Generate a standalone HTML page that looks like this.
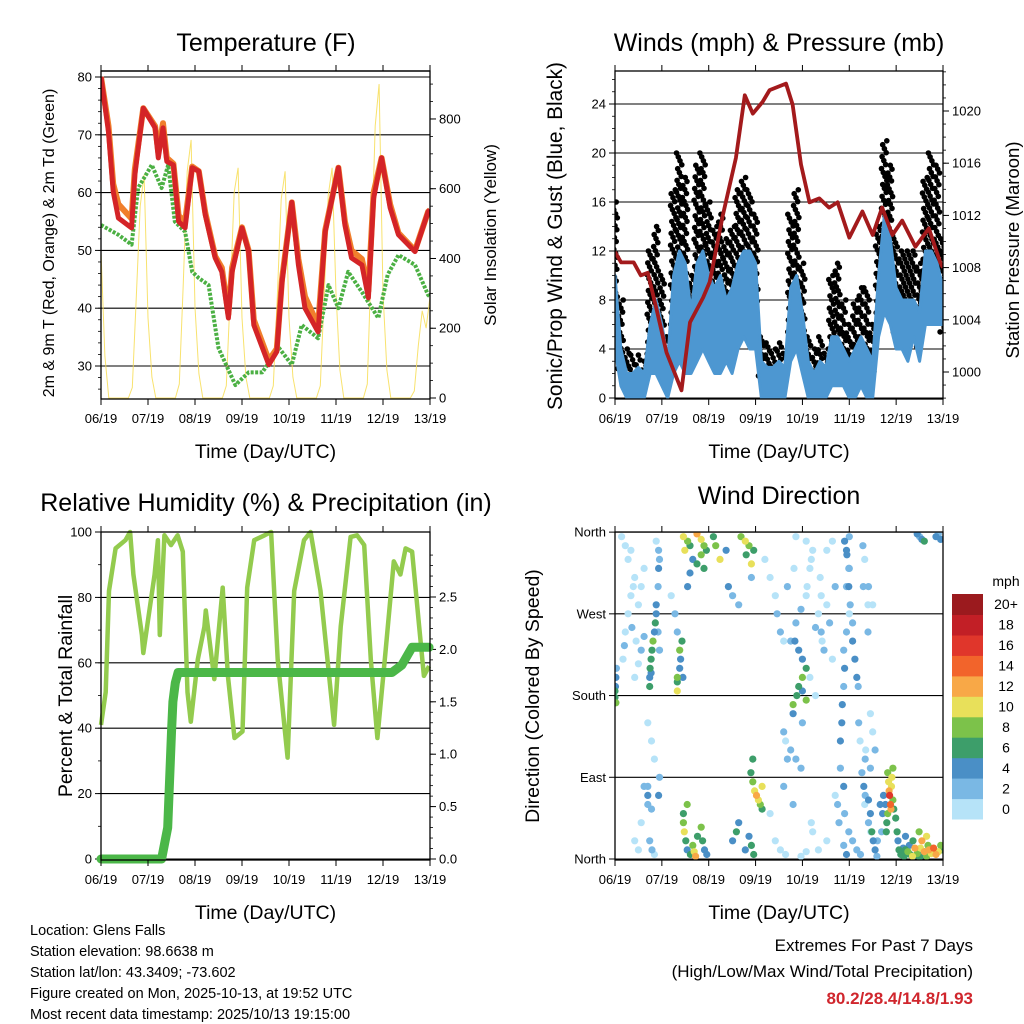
<!DOCTYPE html>
<html><head><meta charset="utf-8"><style>
html,body{margin:0;padding:0;background:#fff;}
svg{display:block;font-family:"Liberation Sans",Arial,sans-serif;}
</style></head><body>
<svg id="fig" width="1024" height="1024" viewBox="0 0 1024 1024" xmlns="http://www.w3.org/2000/svg">
<rect width="1024" height="1024" fill="#fff"/>
<g id="g1"></g>
<g id="g2"></g>
<g id="g3"></g>
<g id="g4"></g>
<g id="cbar"></g>
<g font-size="14.5" fill="#000">
<text x="30" y="935">Location: Glens Falls</text>
<text x="30" y="956">Station elevation: 98.6638 m</text>
<text x="30" y="977">Station lat/lon: 43.3409; -73.602</text>
<text x="30" y="998">Figure created on Mon, 2025-10-13, at 19:52 UTC</text>
<text x="30" y="1019">Most recent data timestamp: 2025/10/13 19:15:00</text>
</g>
<g text-anchor="end">
<text x="973" y="951" font-size="17">Extremes For Past 7 Days</text>
<text x="973" y="977" font-size="17">(High/Low/Max Wind/Total Precipitation)</text>
<text x="973" y="1004" font-size="17" font-weight="bold" fill="#d0262d">80.2/28.4/14.8/1.93</text>
</g>
</svg>
<script>
// ---------- DATA ----------
const xTickLabels = ["06/19","07/19","08/19","09/19","10/19","11/19","12/19","13/19"];
const tempDays = [0,0.16,0.26,0.37,0.65,0.72,0.9,1.15,1.22,1.32,1.4,1.54,1.65,1.79,1.94,2.08,2.22,2.43,2.57,2.71,2.79,3.0,3.14,3.25,3.57,3.74,3.85,4.06,4.2,4.34,4.62,4.77,5.05,5.19,5.33,5.55,5.69,5.8,5.97,6.15,6.33,6.68,6.96,7.0];
const tempRed = [80,70.5,60.2,55.6,53.9,63,74.6,71.2,66,71.2,65.4,64.8,55,53.9,64.3,63.7,56.1,48.7,46.3,38.3,46.3,53.9,49.8,37.1,30.2,32.5,44.5,58.3,47.5,40,35.9,53.2,64.3,54.4,48.7,47.5,41.8,59,66,57.4,52.7,49.8,56.7,57];
const tempOrange = [80,71.5,61.5,58,55.5,64,74.6,71.5,67,72,66,65,56,55,64.5,63.7,56.5,49,47,39,47,54,50,38,31,33,45,58.3,48.5,42,37,53.5,64.3,55,50,48.5,43,60,66,58,53,50,56.7,57];
const dewDays = [0,0.37,0.65,0.79,1.08,1.29,1.43,1.57,1.79,1.94,2.08,2.29,2.5,2.86,3.14,3.43,3.79,4.06,4.27,4.62,4.84,5.05,5.26,5.55,5.9,6.1,6.33,6.68,6.96,7.0];
const dewVals = [54.4,52.7,51,60.8,64.8,60.8,64.8,55,53.2,46.3,45.2,44,33.1,26.7,28.9,28.9,33.1,30.2,37.1,34.8,44,40,46.3,42.8,38.3,45.8,49.2,47.5,42.3,42];
const solarVals = [420,120,0,0,0,0,0,0,30,290,550,640,
 230,60,0,0,0,0,0,0,40,330,650,740,
 260,70,0,0,0,0,0,0,35,300,590,660,
 230,60,0,0,0,0,0,0,35,290,570,650,
 230,60,0,0,0,0,0,0,35,300,580,660,
 300,80,0,0,0,0,0,0,40,400,780,900,
 300,80,0,0,0,0,0,0,20,150,250,200,290];
const windLo = [4,1,0,0,0,0,2,2,1,0,2,3,2,2,3,4,3,2,2,3,2,4,5,4,4,0,0,0,0,0,3,4,2,0,0,0,0,1,1,1,0,0,1,0,0,5,7,6,4,4,3,5,3,6,6,6,6];
const windHi = [10,4,2,2,2.5,2,6,8,6,3,10,12,11,7,11,12,10,9,10,8,9,11,12,12,11,3,2.5,2.5,3,2.5,9,10,7,3,2,3,2.5,5,5,4,3,4,5,4,3,10,15,13,9,8,8,8,7,12,12,11,9];
const gustHi = [16,8,4,3.5,3.5,3,12,14,10,5,17,20,18,10,19,20,16,14,15,13,14,17,18,17,15,5,4.5,4,4.5,4,15,17,11,5,4,5,4,10,11,8,6,8,9,9,6,14,21,19,13,12,12,12,11,18,20,19,13];
const presDays = [0,0.13,0.4,0.55,0.7,0.9,1.1,1.42,1.6,1.88,2.02,2.3,2.58,2.77,2.94,3.15,3.3,3.65,3.79,3.97,4.15,4.36,4.57,4.75,5.0,5.28,5.5,5.7,5.92,6.13,6.41,6.7,6.94,7.0];
const presVals = [1009.2,1008.4,1008.4,1007.4,1007.6,1004.6,1001.5,998.6,1003.8,1005.7,1006.9,1012,1016.4,1021.2,1019.8,1020.7,1021.6,1022.1,1020.5,1015.9,1013,1013.3,1012.6,1013,1010.3,1012.3,1010.5,1012.6,1010.5,1011.6,1009.6,1011,1008.4,1008];
const rhDays = [0,0.1,0.17,0.31,0.52,0.62,0.69,0.87,0.9,1.0,1.14,1.21,1.25,1.35,1.49,1.63,1.74,1.84,1.91,2.06,2.2,2.23,2.41,2.59,2.7,2.84,3.01,3.11,3.26,3.48,3.62,3.76,3.97,4.11,4.32,4.46,4.67,4.96,5.1,5.31,5.45,5.6,5.74,5.88,6.05,6.23,6.37,6.48,6.62,6.77,6.87,6.98];
const rhVals = [41,51,82,95,97.5,100,87,68.5,63,73,87,97.5,68.5,99,96,99,94,51,42,61,71,76,55,83,56,37,39,83,97.5,99,100,61,31,82,97.5,100,82,41,71,98.5,99,96,61,37,63,91,87,95,94,71,56,59];
const rainDays = [0,1.29,1.42,1.5,1.53,1.58,1.64,6.19,6.4,6.62,6.98];
const rainVals = [0,0,0.3,1.21,1.5,1.68,1.78,1.78,1.85,2.02,2.02];
const dirDay = [0,0,0.01,0.02,0.03,0.02,
0.17,0.2,0.22,0.28,0.34,0.39,0.42,0.36,0.45,0.5,0.56,0.62,0.28,0.34,0.14,0.22,0.56,0.5,0.62,0.42,0.7,0.78,0.84,0.62,0.7,0.78,0.56,0.42,0.5,0.84,
0.74,0.74,0.75,0.77,0.79,0.77,0.81,0.84,0.86,0.88,0.88,0.92,0.93,0.95,0.93,0.88,0.92,0.95,0.7,0.7,0.74,0.79,0.93,0.95,
1.33,1.33,1.38,1.4,1.38,1.43,1.33,1.28,1.2,1.33,1.45,
1.46,1.55,1.6,1.49,1.66,1.75,1.84,1.9,1.95,1.75,1.84,1.6,1.55,1.9,
1.46,1.48,1.51,1.54,1.61,1.66,1.69,1.72,1.76,1.84,1.87,1.91,1.96,1.54,1.46,
2.1,2.15,2.24,2.37,2.42,2.51,2.69,2.78,2.86,2.8,2.91,2.96,2.91,2.64,2.51,2.59,2.64,2.78,2.86,2.91,2.96,
2.9,2.94,2.98,3.02,3.06,3.1,3.14,2.94,3.14,
3.2,3.31,3.42,3.46,3.53,3.6,3.42,3.53,3.64,3.31,3.64,3.75,3.86,3.97,3.75,3.86,3.97,4.08,3.68,3.82,4.19,4.08,3.86,3.97,4.08,4.19,
3.8,3.88,3.92,4.0,4.08,4.0,3.92,3.84,4.0,4.08,3.8,3.6,4.0,3.68,3.6,3.8,
4.1,4.16,4.22,4.28,4.34,4.4,4.42,4.46,4.4,4.38,4.52,4.58,4.64,4.64,4.52,4.7,4.16,4.28,4.22,4.34,4.52,4.7,
4.81,4.84,4.85,4.88,4.9,4.88,4.94,5.0,4.94,5.0,4.94,5.0,4.81,4.88,4.75,4.78,4.88,4.94,
4.9,4.95,4.99,4.99,5.02,5.07,5.07,5.12,5.16,5.19,4.9,4.99,5.07,5.16,5.24,5.29,5.33,5.41,5.5,5.33,5.41,5.46,
5.27,5.31,5.34,5.41,5.45,5.48,5.51,5.55,5.59,5.34,5.2,5.23,
5.82,5.84,5.85,5.86,5.88,5.89,5.9,5.91,5.82,5.8,5.79,5.77,5.73,5.71,5.93,5.95,5.99,6.02,6.04,6.06,6.1,6.15,6.17,6.21,5.93,5.66,5.69,5.6,
6.2,6.28,6.36,6.44,6.52,6.55,6.6,6.65,6.68,6.49,6.2,6.36,
6.45,6.5,6.55,6.6,5.3,5.4,5.35,5.45,5.5,5.55,5.4,5.45,
6.2,6.25,6.3,6.35,6.4,6.45,6.5,6.55,6.6,6.65,6.7,6.75,6.8,6.85,6.9,6.95,6.98,6.85,6.9,6.95];
const dirDeg = [185,178,190,200,210,172,220,235,250,270,290,300,310,255,240,280,300,320,330,340,355,345,230,215,245,200,150,130,110,80,60,55,40,20,10,5,
190,200,210,220,230,205,240,250,260,270,280,300,320,330,340,350,250,230,70,80,20,10,70,90,
195,200,210,220,230,240,250,270,290,185,200,
355,350,345,340,330,358,352,345,340,325,335,315,300,320,
40,30,20,10,5,15,8,3,25,35,20,10,5,60,50,
355,345,330,340,300,290,355,350,345,335,325,340,310,280,20,30,40,10,25,15,5,
95,85,75,70,65,60,55,110,80,
330,310,290,270,250,240,20,10,5,50,130,120,110,100,240,260,275,290,300,320,330,350,355,3,8,40,
170,180,190,200,210,220,230,240,185,175,160,140,150,110,80,60,
300,320,340,255,270,250,240,230,290,310,280,260,220,350,340,300,200,180,30,10,20,70,
130,150,170,190,210,230,250,270,300,320,340,355,100,80,60,40,15,5,
350,335,320,300,280,260,240,220,200,190,50,30,20,10,5,345,330,300,280,60,40,30,
95,80,70,65,50,30,20,10,3,110,150,130,
95,85,75,70,60,55,80,90,50,40,30,60,70,50,65,55,45,30,20,10,5,12,3,8,100,60,30,20,
10,15,20,5,12,20,8,25,15,30,25,3,
358,355,352,350,300,280,120,100,140,120,250,160,
10,8,5,3,12,6,2,4,8,3,10,6,12,5,8,15,10,355,358,352];
const dirSpd = [6,7,5,4,3,8,1,2,1,0,1,0,1,2,1,0,1,0,0,1,0,0,2,1,2,0,0,0,1,2,2,3,0,0,0,0,
6,5,6,7,6,4,8,5,6,5,4,3,4,3,2,1,2,2,4,3,3,2,4,3,
6,8,4,5,9,7,3,2,1,10,4,
10,8,6,10,5,12,10,8,6,7,9,4,4,6,
8,10,6,4,6,8,10,12,6,8,6,4,5,8,6,
6,8,10,4,4,2,8,10,8,6,10,7,3,3,4,6,5,4,5,7,6,
6,8,10,12,10,8,6,6,10,
0,1,1,2,2,1,1,0,0,1,1,2,3,2,2,3,2,1,2,1,1,0,1,0,1,0,
8,7,6,8,6,4,5,4,5,9,4,3,3,3,2,2,
1,0,1,2,1,2,1,2,0,1,1,2,0,1,0,2,0,1,1,0,0,1,
4,4,4,3,4,3,2,1,2,3,4,3,3,4,2,3,2,4,
4,4,2,4,2,3,4,4,5,3,3,3,2,3,2,2,1,2,1,1,2,1,
3,4,3,5,4,6,4,5,3,2,2,1,
8,10,12,16,14,12,10,10,8,6,6,4,4,4,8,6,6,6,4,6,6,4,6,4,8,4,2,2,
6,4,6,6,10,12,12,10,8,8,4,4,
4,3,4,6,2,1,1,2,1,2,2,1,
6,8,6,10,12,8,6,4,6,8,12,10,14,12,10,8,6,4,3,4];
const speedBins = [0,2,4,6,8,10,12,14,16,18,20];
const speedLabels = ["0","2","4","6","8","10","12","14","16","18","20+"];
const speedColors = ["#b6e3f8","#7ab8e4","#4a8fc6","#3d9e6a","#7cc24a","#e8e05a","#f8a847","#f2642b","#e0362b","#c21f26","#9b1a1e"];

// ---------- HELPERS ----------
const NS = "http://www.w3.org/2000/svg";
function mk(parent, tag, attrs, txt){
  const e = document.createElementNS(NS, tag);
  for (const k in attrs) e.setAttribute(k, attrs[k]);
  if (txt !== undefined) e.textContent = txt;
  parent.appendChild(e);
  return e;
}
function pathFrom(xs, ys){ return xs.map((x,i)=>(i?"L":"M")+x.toFixed(1)+","+ys[i].toFixed(1)).join(""); }
function frame(g, x0, x1, y0, y1){
  const f = mk(g,"rect",{x:x0,y:y0,width:x1-x0,height:y1-y0,fill:"none",stroke:"#000","stroke-width":1.3});
  
  
}
function xAxis(g, x0, x1, y0, y1){
  const step = (x1-x0)/7;
  xTickLabels.forEach((lab,i)=>{
    const x = x0 + i*step;
    mk(g,"line",{x1:x,x2:x,y1:y1,y2:y1+6,stroke:"#000","stroke-width":1});
    mk(g,"line",{x1:x,x2:x,y1:y0,y2:y0-6,stroke:"#000","stroke-width":1});
    const t = mk(g,"text",{x:x,y:y1+24,"font-size":13,"text-anchor":"middle"},lab);
    
    
  });
  const tt = mk(g,"text",{x:(x0+x1)/2,y:y1+59,"font-size":19.5,"text-anchor":"middle"},"Time (Day/UTC)");
  
  
}
function yTicks(g, vals, yf, x, side, labels, grid, x0, x1, fs){
  vals.forEach((v,i)=>{
    const y = yf(v);
    if (grid) mk(g,"line",{x1:x0,x2:x1,y1:y,y2:y,stroke:"#000","stroke-width":1.1});
    mk(g,"line",{x1:x,x2:x+(side<0?-6:6),y1:y,y2:y,stroke:"#000","stroke-width":1});
    const t = mk(g,"text",{x:x+(side<0?-9:9),y:y+4.5,"font-size":fs||13,"text-anchor":side<0?"end":"start"},labels[i]);
    
    
  });
}
function minor(g, vals, yf, x, side){
  vals.forEach(v=>{ const y=yf(v); mk(g,"line",{x1:x,x2:x+(side<0?-3:3),y1:y,y2:y,stroke:"#000","stroke-width":0.8}); });
}
function vtitle(g, x, y, txt, fs, name){
  const t = mk(g,"text",{x:0,y:0,"font-size":fs,"text-anchor":"middle",transform:`translate(${x},${y}) rotate(-90)`},txt);
  
  
}
function title(g,x,y,txt,name){
  const t = mk(g,"text",{x:x,y:y,"font-size":25,"text-anchor":"middle"},txt);
  
  
}
function range(a,b,s){ const r=[]; for(let v=a; v<=b+1e-9; v+=s) r.push(+v.toFixed(4)); return r; }

// ---------- PANEL 1: TEMPERATURE ----------
(function(){
  const g = document.getElementById("g1");
  const x0=101,x1=430,y0=71,y1=399;
  const X = d => x0 + d*(x1-x0)/7;
  const YT = v => 77 + (80-v)*5.78;
  const YS = v => 398 - v*0.3488;
  title(g,266,51,"Temperature (F)","chart-title");
  yTicks(g,[30,40,50,60,70,80],YT,x0,-1,["30","40","50","60","70","80"],true,x0,x1);
  minor(g,range(26,80,2),YT,x0,-1);
  yTicks(g,[0,200,400,600,800],YS,x1,1,["0","200","400","600","800"],false);
  minor(g,range(0,900,50),YS,x1,1);
  mk(g,"line",{x1:x0,x2:x1,y1:y0,y2:y0,stroke:"#000","stroke-width":1.2});
  const cp = mk(g,"clipPath",{id:"c1"}); mk(cp,"rect",{x:x0,y:y0,width:x1-x0,height:y1-y0});
  const s = mk(g,"path",{d:pathFrom(solarVals.map((v,i)=>X(i/12)),solarVals.map(YS)),fill:"none",stroke:"#f7dd55","stroke-width":1,"clip-path":"url(#c1)",opacity:0.85});
  
  
  const d = mk(g,"path",{d:pathFrom(dewDays.map(X),dewVals.map(YT)),fill:"none",stroke:"#4bb043","stroke-width":4,"stroke-dasharray":"3 1.5","stroke-linejoin":"round","clip-path":"url(#c1)"});
  
  
  const o = mk(g,"path",{d:pathFrom(tempDays.map(X),tempOrange.map(YT)),fill:"none",stroke:"#f07f2c","stroke-width":6,"stroke-linejoin":"round","clip-path":"url(#c1)"});
  
  
  const r = mk(g,"path",{d:pathFrom(tempDays.map(X),tempRed.map(YT)),fill:"none",stroke:"#d42427","stroke-width":5,"stroke-linejoin":"round","clip-path":"url(#c1)"});
  
  
  frame(g,x0,x1,y0,y1);
  xAxis(g,x0,x1,y0,y1);
  vtitle(g,54,243,"2m & 9m T (Red, Orange) & 2m Td (Green)",16,"left-y-axis-title");
  vtitle(g,496,235,"Solar Insolation (Yellow)",17,"right-y-axis-title");
})();

// ---------- PANEL 2: WINDS ----------
(function(){
  const g = document.getElementById("g2");
  const x0=615,x1=943,y0=71,y1=399;
  const X = d => x0 + d*(x1-x0)/7;
  const YW = v => 398 - v*12.25;
  const YP = v => 372 - (v-1000)*13.05;
  title(g,779,51,"Winds (mph) & Pressure (mb)","chart-title");
  yTicks(g,[0,4,8,12,16,20,24],YW,x0,-1,["0","4","8","12","16","20","24"],true,x0,x1);
  minor(g,range(0,26,1),YW,x0,-1);
  yTicks(g,[1000,1004,1008,1012,1016,1020],YP,x1,1,["1000","1004","1008","1012","1016","1020"],false);
  minor(g,range(998,1023,1),YP,x1,1);
  const cp = mk(g,"clipPath",{id:"c2"}); mk(cp,"rect",{x:x0,y:y0,width:x1-x0,height:y1-y0});
  const gg = mk(g,"g",{"clip-path":"url(#c2)"});
  const n = gustHi.length;
  for (let i=0;i<n;i++){
    const xa = X(i/8), span = (x1-x0)/7/8;
    const top = gustHi[i], bot = windHi[i]*0.6;
    const cnt = Math.max(4, Math.round((top-bot)*3.2));
    for (let k=0;k<cnt;k++){
      const v = bot + (top-bot)*(k/(cnt-1||1));
      const xx = xa - span/2 + ((k*7)%10)/10*span;
      const c = mk(gg,"circle",{cx:xx.toFixed(1),cy:YW(v).toFixed(1),r:2.8,fill:"#000"});
      
      
    }
  }
  const xs = windHi.map((v,i)=>X(i/8));
  const top = xs.map((x,i)=>x.toFixed(1)+","+YW(windHi[i]).toFixed(1));
  const bot = xs.map((x,i)=>x.toFixed(1)+","+YW(windLo[i]).toFixed(1)).reverse();
  const band = mk(gg,"polygon",{points:top.concat(bot).join(" "),fill:"#4d97d1",stroke:"#4d97d1","stroke-width":3,"stroke-linejoin":"round"});
  
  
  const p = mk(gg,"path",{d:pathFrom(presDays.map(X),presVals.map(YP)),fill:"none",stroke:"#a31a1c","stroke-width":3.8,"stroke-linejoin":"round"});
  
  
  frame(g,x0,x1,y0,y1);
  xAxis(g,x0,x1,y0,y1);
  vtitle(g,562,236,"Sonic/Prop Wind & Gust (Blue, Black)",20.8,"left-y-axis-title");
  vtitle(g,1019,250,"Station Pressure (Maroon)",18.5,"right-y-axis-title");
})();

// ---------- PANEL 3: RH & PRECIP ----------
(function(){
  const g = document.getElementById("g3");
  const x0=101,x1=430,y0=532,y1=860;
  const X = d => x0 + d*(x1-x0)/7;
  const YR = v => 859 - v*3.27;
  const YN = v => 859 - v*104.8;
  title(g,266,511,"Relative Humidity (%) & Precipitation (in)","chart-title");
  yTicks(g,[0,20,40,60,80,100],YR,x0,-1,["0","20","40","60","80","100"],true,x0,x1);
  minor(g,range(0,100,10),YR,x0,-1);
  yTicks(g,[0,0.5,1,1.5,2,2.5],YN,x1,1,["0.0","0.5","1.0","1.5","2.0","2.5"],false);
  minor(g,range(0,2.9,0.1),YN,x1,1);
  const cp = mk(g,"clipPath",{id:"c3"}); mk(cp,"rect",{x:x0-6,y:y0-6,width:x1-x0+12,height:y1-y0+12});
  const h = mk(g,"path",{d:pathFrom(rhDays.map(X),rhVals.map(YR)),fill:"none",stroke:"#93cb4e","stroke-width":4.5,"stroke-linejoin":"round","clip-path":"url(#c3)"});
  
  
  const r = mk(g,"path",{d:pathFrom(rainDays.map(X),rainVals.map(YN)),fill:"none",stroke:"#4bb748","stroke-width":9,"stroke-linejoin":"round","stroke-linecap":"round","clip-path":"url(#c3)"});
  
  
  frame(g,x0,x1,y0,y1);
  xAxis(g,x0,x1,y0,y1);
  vtitle(g,72,696,"Percent & Total Rainfall",19.5,"left-y-axis-title");
})();

// ---------- PANEL 4: WIND DIRECTION ----------
(function(){
  const g = document.getElementById("g4");
  const x0=615,x1=943,y0=532,y1=860;
  const X = d => x0 + d*(x1-x0)/7;
  const YD = v => 859 - v*0.908;
  title(g,779,504,"Wind Direction","chart-title");
  yTicks(g,[0,90,180,270,360],YD,x0,-1,["North","East","South","West","North"],true,x0,x1);
  const cp = mk(g,"clipPath",{id:"c4"}); mk(cp,"rect",{x:x0,y:y0,width:x1-x0,height:y1-y0});
  const gg = mk(g,"g",{"clip-path":"url(#c4)"});
  const order = dirDay.map((d,i)=>i).sort((a,b)=>dirSpd[a]-dirSpd[b]);
  order.forEach(i=>{
    let bi = 0;
    speedBins.forEach((b,k)=>{ if (dirSpd[i]>=b) bi=k; });
    const c = mk(gg,"circle",{cx:X(dirDay[i]).toFixed(1),cy:YD(dirDeg[i]).toFixed(1),r:3.6,fill:speedColors[bi]});
    
    
  });
  frame(g,x0,x1,y0,y1);
  xAxis(g,x0,x1,y0,y1);
  vtitle(g,539,696,"Direction (Colored By Speed)",19.5,"left-y-axis-title");
  const cb = document.getElementById("cbar");
  const t = mk(cb,"text",{x:1006,y:586,"font-size":14,"text-anchor":"middle"},"mph");
  
  
  const top=594, h=(819-594)/11;
  speedColors.forEach((c,k)=>{
    const y = top + (10-k)*h;
    const r = mk(cb,"rect",{x:952,y:y.toFixed(1),width:31,height:(h+0.5).toFixed(1),fill:c});
    
    
    const l = mk(cb,"text",{x:1006,y:(y+h/2+5).toFixed(1),"font-size":14,"text-anchor":"middle"},speedLabels[k]);
    
    
  });
})();
</script>
</body></html>
